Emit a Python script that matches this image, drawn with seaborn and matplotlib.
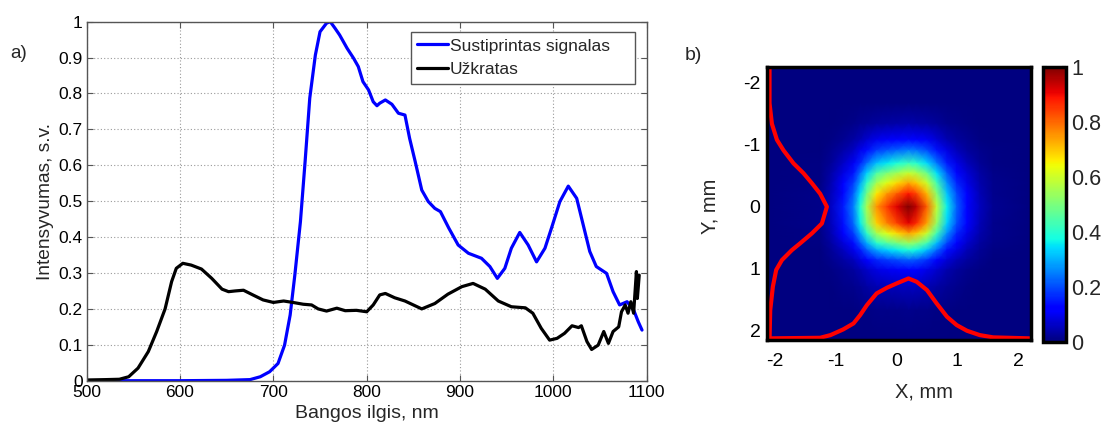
import numpy as np
import matplotlib
matplotlib.use("Agg")
import matplotlib.pyplot as plt
import seaborn as sns

# ---------------- data ----------------
series_names = ["Sustiprintas signalas", "Užkratas"]

sig_nm = [500, 550, 600, 650, 675, 686, 696, 705, 712, 718,
          723, 729, 734, 739, 745, 750, 757, 761, 766, 771,
          779, 786, 791, 796, 802, 807, 811, 814, 820, 827,
          834, 841, 846, 852, 859, 866, 873, 879, 888, 898,
          909, 923, 932, 940, 948, 955, 964, 973, 982, 991,
          998, 1007, 1016, 1025, 1032, 1039, 1046, 1057, 1064, 1071,
          1079, 1086, 1091, 1095]
sig_val = [0.0, 0.0, 0.0, 0.001, 0.003, 0.011, 0.025, 0.048, 0.099, 0.183,
           0.294, 0.443, 0.610, 0.787, 0.907, 0.972, 0.996, 1.0, 0.982, 0.963,
           0.926, 0.898, 0.875, 0.833, 0.810, 0.777, 0.766, 0.773, 0.782, 0.770,
           0.745, 0.740, 0.675, 0.610, 0.531, 0.499, 0.480, 0.471, 0.425, 0.378,
           0.355, 0.341, 0.318, 0.285, 0.313, 0.369, 0.413, 0.378, 0.331, 0.369,
           0.425, 0.499, 0.542, 0.508, 0.434, 0.360, 0.318, 0.299, 0.248, 0.211,
           0.220, 0.197, 0.164, 0.141]

seed_nm = [500, 520, 535, 545, 555, 566, 575, 584, 591, 596,
           603, 612, 623, 634, 645, 652, 659, 668, 678, 689,
           700, 711, 721, 732, 741, 748, 757, 768, 777, 789,
           800, 807, 814, 820, 830, 841, 859, 873, 887, 902,
           914, 927, 941, 955, 970, 978, 987, 996, 1004, 1012,
           1020, 1027, 1030, 1036, 1041, 1048, 1054, 1059, 1064, 1070,
           1073, 1077, 1080, 1083, 1086, 1089, 1090, 1092]
seed_val = [0.002, 0.003, 0.004, 0.011, 0.035, 0.081, 0.137, 0.200, 0.276, 0.313,
            0.327, 0.322, 0.311, 0.285, 0.255, 0.248, 0.250, 0.252, 0.239, 0.225,
            0.218, 0.222, 0.218, 0.213, 0.211, 0.200, 0.194, 0.202, 0.195, 0.196,
            0.192, 0.211, 0.239, 0.243, 0.231, 0.222, 0.200, 0.215, 0.241, 0.262,
            0.271, 0.255, 0.222, 0.206, 0.203, 0.188, 0.146, 0.113, 0.118, 0.132,
            0.153, 0.148, 0.153, 0.109, 0.087, 0.099, 0.137, 0.104, 0.137, 0.150,
            0.192, 0.211, 0.188, 0.220, 0.188, 0.304, 0.229, 0.294]

# beam profiles (normalised), read from the red curves of panel b)
beam_x_mm = [-2.13, -1.26, -1.09, -0.88, -0.71, -0.60, -0.49, -0.33, -0.16, 0.0,
             0.195, 0.33, 0.50, 0.66, 0.83, 0.99, 1.16, 1.37, 1.59, 2.21]
beam_x_int = [0.0, 0.01, 0.055, 0.15, 0.25, 0.39, 0.555, 0.75, 0.845, 0.917,
              1.0, 0.945, 0.806, 0.583, 0.361, 0.222, 0.127, 0.055, 0.017, 0.0]
beam_y_mm = [-2.24, -1.66, -1.33, -1.07, -0.90, -0.69, -0.53, -0.37, -0.20, 0.01,
             0.28, 0.44, 0.60, 0.71, 0.87, 1.03, 1.30, 1.68, 2.16]
beam_y_int = [0.0, 0.0, 0.041, 0.129, 0.244, 0.418, 0.593, 0.738, 0.883, 1.0,
              0.913, 0.738, 0.534, 0.389, 0.216, 0.116, 0.058, 0.012, 0.0]

x_ticks = [500, 600, 700, 800, 900, 1000, 1100]
y_ticks = [0, 0.1, 0.2, 0.3, 0.4, 0.5, 0.6, 0.7, 0.8, 0.9, 1]
y_tick_labels = ["0", "0.1", "0.2", "0.3", "0.4", "0.5", "0.6", "0.7", "0.8", "0.9", "1"]
beam_ticks = [-2, -1, 0, 1, 2]
cbar_ticks = [0, 0.2, 0.4, 0.6, 0.8, 1]
cbar_labels = ["0", "0.2", "0.4", "0.6", "0.8", "1"]

# ---------------- style ----------------
sns.set_theme(style="white")
plt.rcParams["font.family"] = ["Liberation Sans", "DejaVu Sans"]
plt.rcParams["axes.unicode_minus"] = False

fig = plt.figure(figsize=(11.1, 4.23), dpi=100)
fig.patch.set_facecolor("white")

# ---------------- panel a ----------------
ax = fig.add_axes([0.0781, 0.1000, 0.5045, 0.8487])
sns.lineplot(x=sig_nm, y=sig_val, ax=ax, color=(0, 0, 1), lw=2.3,
             label=series_names[0], estimator=None)
sns.lineplot(x=seed_nm, y=seed_val, ax=ax, color="black", lw=2.3,
             label=series_names[1], estimator=None)
ax.set_xlim(500, 1100)
ax.set_ylim(0, 1)
ax.set_xticks(x_ticks)
ax.set_yticks(y_ticks)
ax.set_yticklabels(y_tick_labels)
ax.grid(True, linestyle=(0, (1, 2)), color="#9a9a9a", linewidth=0.8)
ax.tick_params(direction="in", length=4, width=0.8, top=True, right=True,
               bottom=True, left=True, color="#555555", labelsize=12.5,
               labelcolor="black")
ax.tick_params(axis="x", pad=3)
ax.tick_params(axis="y", pad=3)
for s in ax.spines.values():
    s.set_color("#555555")
    s.set_linewidth(1.0)
ax.set_xlabel("Bangos ilgis, nm", fontsize=14)
ax.set_ylabel("Intensyvumas, s.v.", fontsize=13.8)
ax.xaxis.set_label_coords(0.5, -0.068)
ax.yaxis.set_label_coords(-0.058, 0.5)
leg = ax.legend(loc="upper left", bbox_to_anchor=(0.5786, 0.830, 0.4005, 0.142),
                mode="expand", borderaxespad=0,
                fontsize=12.5, frameon=True, fancybox=False, handlelength=1.75,
                handletextpad=0.12, borderpad=0.38, labelspacing=0.5)
leg.get_frame().set_edgecolor("#555555")
leg.get_frame().set_linewidth(1.0)
leg.get_frame().set_alpha(1)

fig.text(10 / 1110, 1 - 53 / 423, "a)", fontsize=13.5, va="center", ha="left")

# ---------------- panel b ----------------
ax2 = fig.add_axes([0.6913, 0.1962, 0.2373, 0.6447])
X, Y = np.meshgrid(beam_x_mm, beam_y_mm)
C = np.outer(beam_y_int, beam_x_int)
mesh = ax2.pcolormesh(X, Y, C, shading="gouraud", cmap="jet", vmin=0, vmax=1)

bx = np.array(beam_x_int)
by = np.array(beam_y_int)
sns.lineplot(x=beam_x_mm, y=2.134 - 0.967 * bx, ax=ax2, color="red", lw=3,
             sort=False, estimator=None)
sns.lineplot(x=-2.094 + 0.945 * by, y=beam_y_mm, ax=ax2, color="red", lw=3,
             sort=False, estimator=None, orient="y")
ax2.set_xlim(-2.13, 2.21)
ax2.set_ylim(2.16, -2.24)
ax2.set_xticks(beam_ticks)
ax2.set_yticks(beam_ticks)
ax2.tick_params(direction="in", length=3, width=1.5, top=True, right=True,
                bottom=True, left=True, color="black", labelsize=14,
                labelcolor="black")
ax2.tick_params(axis="x", pad=9)
ax2.tick_params(axis="y", pad=5)
for s in ax2.spines.values():
    s.set_color("black")
    s.set_linewidth(2.5)
ax2.set_xlabel("X, mm", fontsize=14.5)
ax2.set_ylabel("Y, mm", fontsize=14.5)
ax2.xaxis.set_label_coords(0.595, -0.155)
ax2.yaxis.set_label_coords(-0.18, 0.49)

cax = fig.add_axes([0.9399, 0.1922, 0.0205, 0.650])
cb = fig.colorbar(mesh, cax=cax, ticks=cbar_ticks)
cb.ax.set_yticklabels(cbar_labels)
cax.tick_params(direction="in", length=3, width=1.5, left=True, right=True,
                color="black", labelsize=15.5, pad=4)
cb.outline.set_linewidth(2.5)
cb.outline.set_edgecolor("black")

fig.text(685 / 1110, 1 - 55 / 423, "b)", fontsize=14, va="center", ha="left")

fig.savefig("out.png", dpi=100)
